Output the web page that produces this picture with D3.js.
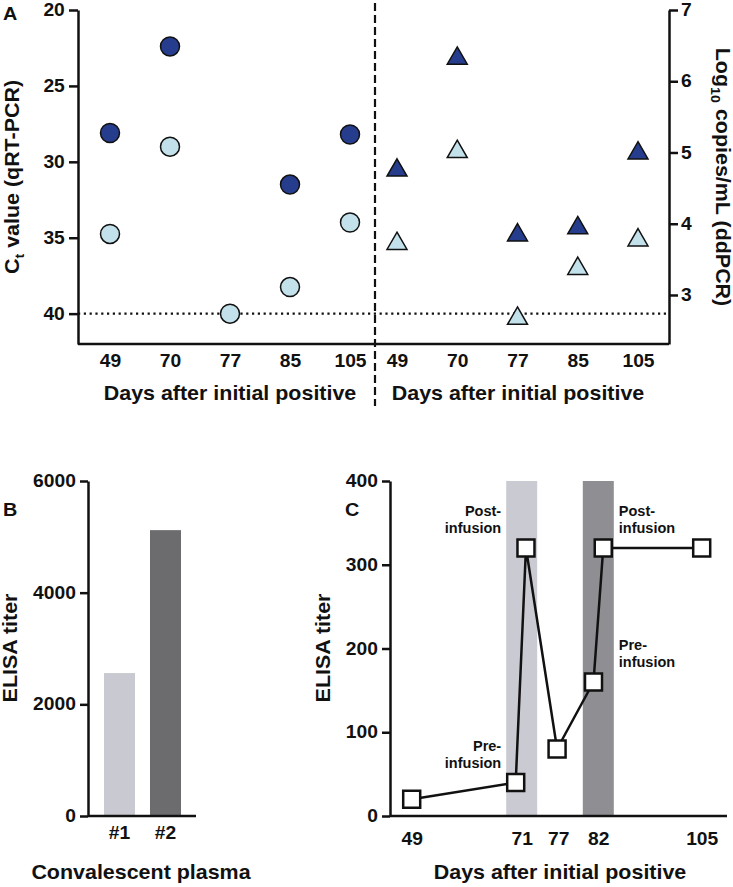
<!DOCTYPE html>
<html><head><meta charset="utf-8">
<script src="https://cdn.jsdelivr.net/npm/d3@7"></script>
<style>
body{margin:0;background:#fff;}
text{font-family:"Liberation Sans",Arial,sans-serif;font-weight:bold;fill:#111;}
</style></head>
<body><svg id="c" width="733" height="887"></svg>
<script>
// ---------- DATA ----------
const daysA = ["49", "70", "77", "85", "105"];
const ctDark = [28.1, 22.4, null, 31.5, 28.2];
const ctLight = [34.75, 29.0, 40.0, 38.25, 34.0];
const logDark = [4.75, 6.32, 3.84, 3.94, 4.99];
const logLight = [3.72, 5.01, 2.67, 3.37, 3.77];
const ctTicks = [20, 25, 30, 35, 40];
const logTicks = [3, 4, 5, 6, 7];
const ctLimit = 40;

const plasmaLabels = ["#1", "#2"];
const plasmaTiters = [2560, 5120];
const plasmaTicks = [0, 2000, 4000, 6000];

const titerDays = [49, 69.8, 71.7, 76.8, 81.4, 83.1, 105];
const titerValues = [20, 40, 320, 80, 160, 320, 320];
const titerTickDays = [49, 71, 77, 82, 105];
const titerTicks = [0, 100, 200, 300, 400];
const infusionDays = [71, 82];
const annotations = [
  {lines: ["Post-", "infusion"], band: 0, side: "left", value: 364},
  {lines: ["Pre-", "infusion"], band: 0, side: "left", value: 83},
  {lines: ["Post-", "infusion"], band: 1, side: "right", value: 364},
  {lines: ["Pre-", "infusion"], band: 1, side: "right", value: 204}
];

// ---------- STYLE ----------
const SX = 1.1;
const navy = "#263d8e", lightBlue = "#c2e1ea";
const barColors = ["#c9c9d1", "#6c6c6f"];
const bandColors = ["#cacad2", "#8f8e93"];
const fmt = d3.format("d");
const svg = d3.select("#c");

function txt(g, x, y, s, size, anchor = "middle", rot = 0, sx = SX) {
  return g.append("text")
    .attr("transform", `translate(${x},${y}) rotate(${rot}) scale(${sx},1)`)
    .attr("text-anchor", anchor).attr("font-size", size).text(s);
}
function styleAxis(sel, fs) {
  sel.selectAll(".domain, line").attr("stroke", "#111").attr("stroke-width", 2.5);
  sel.selectAll("text").attr("font-size", fs).attr("fill", "#111")
    .attr("font-family", '"Liberation Sans",Arial,sans-serif').attr("font-weight", "bold")
    .attr("transform", `scale(${SX},1)`);
}

// ---------- PANEL A ----------
const gA = svg.append("g");
const yCt = d3.scaleLinear().domain([20, 42]).range([10, 344]);
const yLog = d3.scaleLinear().domain([2.312, 7]).range([344, 10]);
const xL = d3.scalePoint().domain(daysA).range([110, 350]);
const xR = d3.scalePoint().domain(daysA).range([397, 638]);
const axL = 78, axR = 669, divX = 375;

gA.append("line").attr("x1", axL).attr("x2", axR)
  .attr("y1", yCt(ctLimit)).attr("y2", yCt(ctLimit))
  .attr("stroke", "#111").attr("stroke-width", 2.2).attr("stroke-dasharray", "2.2,3.6");

gA.append("line").attr("x1", axL).attr("x2", axR).attr("y1", yCt(42)).attr("y2", yCt(42))
  .attr("stroke", "#111").attr("stroke-width", 2.5);

const gyl = gA.append("g").attr("transform", `translate(${axL},0)`)
  .call(d3.axisLeft(yCt).tickValues(ctTicks).tickFormat(fmt).tickSize(9).tickSizeOuter(0).tickPadding(3));
styleAxis(gyl, 17.5);
const gyr = gA.append("g").attr("transform", `translate(${axR},0)`)
  .call(d3.axisRight(yLog).tickValues(logTicks).tickFormat(fmt).tickSize(9).tickSizeOuter(0).tickPadding(2));
styleAxis(gyr, 17.5);

[xL, xR].forEach(sc => {
  const g = gA.append("g").attr("transform", `translate(0,${yCt(42)})`)
    .call(d3.axisBottom(sc).tickSize(0).tickPadding(11));
  g.select(".domain").remove();
  styleAxis(g, 17.5);
});

gA.append("line").attr("x1", divX).attr("x2", divX).attr("y1", 3).attr("y2", 406)
  .attr("stroke", "#111").attr("stroke-width", 2.2).attr("stroke-dasharray", "8,4");

const circ = (vals, fill) => gA.append("g").selectAll("circle")
  .data(vals.map((v, i) => ({d: daysA[i], v})).filter(o => o.v !== null))
  .join("circle").attr("cx", o => xL(o.d)).attr("cy", o => yCt(o.v)).attr("r", 9.5)
  .attr("fill", fill).attr("stroke", "#111").attr("stroke-width", 1.5);
circ(ctDark, navy);
circ(ctLight, lightBlue);

const tri = d3.symbol(d3.symbolTriangle, 173);
const tris = (vals, fill) => gA.append("g").selectAll("path")
  .data(vals.map((v, i) => ({d: daysA[i], v})))
  .join("path").attr("d", tri)
  .attr("transform", o => `translate(${xR(o.d)},${yLog(o.v)})`)
  .attr("fill", fill).attr("stroke", "#111").attr("stroke-width", 1.5);
tris(logDark, navy);
tris(logLight, lightBlue);

txt(gA, 230, 400, "Days after initial positive", 19.5);
txt(gA, 518, 400, "Days after initial positive", 19.5);
const ctT = gA.append("text").attr("transform", `translate(19,177) rotate(-90) scale(${SX},1)`)
  .attr("text-anchor", "middle").attr("font-size", 19.5);
ctT.append("tspan").text("C");
ctT.append("tspan").attr("font-size", 13).attr("dy", 5).text("t");
ctT.append("tspan").attr("dy", -5).text(" value (qRT-PCR)");
const lgT = gA.append("text").attr("transform", `translate(716,177) rotate(90) scale(${SX},1)`)
  .attr("text-anchor", "middle").attr("font-size", 19.5);
lgT.append("tspan").text("Log");
lgT.append("tspan").attr("font-size", 13).attr("dy", 5).text("10");
lgT.append("tspan").attr("dy", -5).text(" copies/mL (ddPCR)");
txt(gA, 3, 20, "A", 18, "start");

// ---------- PANEL B ----------
const gB = svg.append("g");
const yB = d3.scaleLinear().domain([0, 6000]).range([816, 481]);
const xB = d3.scaleBand().domain(plasmaLabels).range([96.5, 188.5]).paddingInner(0.326).paddingOuter(0.163);
gB.selectAll("rect").data(plasmaTiters).join("rect")
  .attr("x", (d, i) => xB(plasmaLabels[i])).attr("width", xB.bandwidth())
  .attr("y", d => yB(d)).attr("height", d => yB(0) - yB(d))
  .attr("fill", (d, i) => barColors[i]);
gB.append("line").attr("x1", 88).attr("x2", 196).attr("y1", yB(0)).attr("y2", yB(0))
  .attr("stroke", "#111").attr("stroke-width", 2.5);
const gyb = gB.append("g").attr("transform", "translate(88,0)")
  .call(d3.axisLeft(yB).tickValues(plasmaTicks).tickFormat(fmt).tickSize(8).tickSizeOuter(0).tickPadding(3));
styleAxis(gyb, 17.5);
const gxb = gB.append("g").attr("transform", `translate(0,${yB(0)})`)
  .call(d3.axisBottom(xB).tickSize(0).tickPadding(11));
gxb.select(".domain").remove();
styleAxis(gxb, 17.5);
txt(gB, 141, 879, "Convalescent plasma", 19.5);
txt(gB, 17, 648, "ELISA titer", 19.5, "middle", -90);
txt(gB, 3, 516, "B", 18, "start");

// ---------- PANEL C ----------
const gC = svg.append("g");
const yC = d3.scaleLinear().domain([0, 400]).range([816, 481]);
const xC = d3.scaleLinear().domain(titerTickDays).range([411.7, 521.7, 558.3, 598.3, 701.7]);
const bandW = 31;
gC.selectAll("rect").data(infusionDays).join("rect")
  .attr("x", d => xC(d) - bandW / 2).attr("width", bandW)
  .attr("y", yC(400)).attr("height", yC(0) - yC(400))
  .attr("fill", (d, i) => bandColors[i]);
gC.append("line").attr("x1", 390).attr("x2", 727).attr("y1", yC(0)).attr("y2", yC(0))
  .attr("stroke", "#111").attr("stroke-width", 2.5);
const gyc = gC.append("g").attr("transform", "translate(390,0)")
  .call(d3.axisLeft(yC).tickValues(titerTicks).tickFormat(fmt).tickSize(8).tickSizeOuter(0).tickPadding(3));
styleAxis(gyc, 17.5);
const gxc = gC.append("g").attr("transform", `translate(0,${yC(0)})`)
  .call(d3.axisBottom(xC).tickValues(titerTickDays).tickFormat(fmt).tickSize(0).tickPadding(17));
gxc.select(".domain").remove();
styleAxis(gxc, 17.5);

const pts = titerDays.map((d, i) => ({d, v: titerValues[i]}));
gC.append("path").datum(pts)
  .attr("d", d3.line().x(o => xC(o.d)).y(o => yC(o.v)))
  .attr("fill", "none").attr("stroke", "#111").attr("stroke-width", 2.5);
gC.append("g").selectAll("path").data(pts).join("path")
  .attr("d", d3.symbol(d3.symbolSquare, 289))
  .attr("transform", o => `translate(${xC(o.d)},${yC(o.v)})`)
  .attr("fill", "#fff").attr("stroke", "#111").attr("stroke-width", 2.5);

annotations.forEach(a => {
  const c = xC(infusionDays[a.band]);
  const x = a.side === "left" ? c - bandW / 2 - 5 : c + bandW / 2 + 5;
  const anchor = a.side === "left" ? "end" : "start";
  a.lines.forEach((s, j) => {
    txt(gC, x, yC(a.value) + 5 + j * 16.7, s, 14.5, anchor, 0, 1);
  });
});

txt(gC, 560, 879, "Days after initial positive", 19.5);
txt(gC, 330, 648, "ELISA titer", 19.5, "middle", -90);
txt(gC, 345, 516, "C", 18, "start");
</script></body></html>
